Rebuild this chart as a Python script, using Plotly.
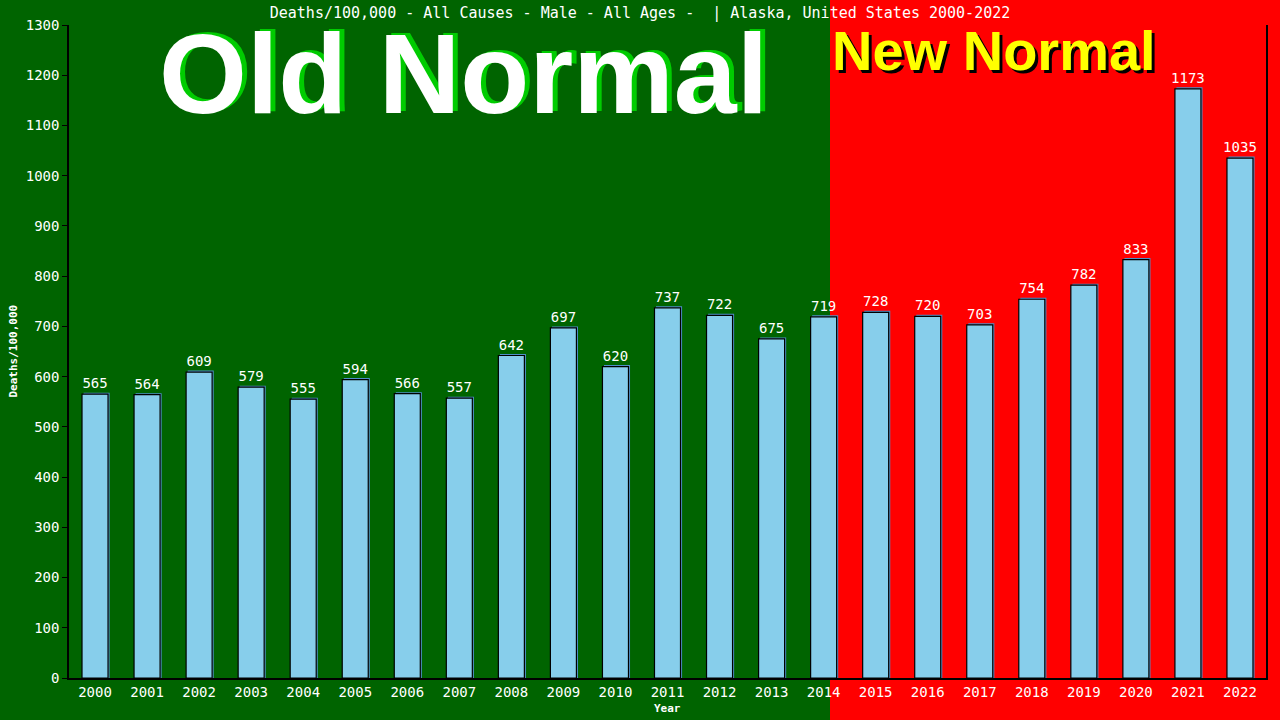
import plotly.graph_objects as go

years = [str(y) for y in range(2000, 2023)]
deaths = [565, 564, 609, 579, 555, 594, 566, 557, 642, 697, 620, 737, 722,
          675, 719, 728, 720, 703, 754, 782, 833, 1173, 1035]
y_ticks = list(range(0, 1301, 100))

title_text = "Deaths/100,000 - All Causes - Male - All Ages -  | Alaska, United States 2000-2022"

W, H = 1280, 720
L, R, T, B = 69, 14, 25, 42
PW, PH = W - L - R, H - T - B

def px_x(p):
    return (p - L) / PW

def px_y(p):
    return (H - B - p) / PH

mono = "DejaVu Sans Mono"
sans = "Liberation Sans"

fig = go.Figure()
# 3D shadow bar
fig.add_trace(go.Bar(
    x=years, y=[v + 3 for v in deaths], width=0.5, offset=-0.22,
    marker=dict(color="#4f8fc8", line=dict(width=0)),
    hoverinfo="skip", showlegend=False,
))
fig.add_trace(go.Bar(
    x=years, y=deaths, width=0.5, offset=-0.25,
    marker=dict(color="#87ceeb", line=dict(color="black", width=1.2)),
    text=[str(v) for v in deaths], textposition="outside", constraintext="none",
    textfont=dict(family=mono, size=14, color="white"),
    cliponaxis=False, showlegend=False,
))

fig.update_layout(
    width=W, height=H,
    margin=dict(l=L, r=R, t=T, b=B),
    paper_bgcolor="#006400",
    plot_bgcolor="rgba(0,0,0,0)",
    barmode="overlay",
    title=dict(text=title_text, x=0.5, xref="container", y=1 - 13 / H,
               yref="container", yanchor="middle", xanchor="center",
               font=dict(family=mono, size=15, color="white")),
    xaxis=dict(range=[-0.5, 22.5], showline=True, linecolor="black", linewidth=1.5,
               ticks="", showgrid=False,
               tickfont=dict(family=mono, size=14, color="white")),
    yaxis=dict(range=[0, 1300], tickvals=y_ticks, showline=True, linecolor="black",
               linewidth=1.5, mirror=True, ticks="outside", ticklen=5, tickcolor="black",
               showgrid=False, zeroline=False,
               tickfont=dict(family=mono, size=14, color="white")),
    shapes=[dict(type="rect", xref="paper", yref="paper",
                 x0=px_x(830), x1=1.2, y0=-0.3, y1=1.3,
                 fillcolor="#ff0000", line=dict(width=0), layer="below")],
)

annots = [
    dict(text="Old Normal", x=px_x(463), y=px_y(74), xshift=5, yshift=2,
         font=dict(family=sans, size=113, color="#00cc00", weight="bold")),
    dict(text="Old Normal", x=px_x(463), y=px_y(74),
         font=dict(family=sans, size=113, color="white", weight="bold")),
    dict(text="New Normal", x=px_x(994), y=px_y(51), xshift=3, yshift=-3,
         font=dict(family=sans, size=56, color="black", weight="bold")),
    dict(text="New Normal", x=px_x(994), y=px_y(51),
         font=dict(family=sans, size=56, color="#ffff00", weight="bold")),
    dict(text="Deaths/100,000", x=px_x(13), y=0.5, textangle=-90,
         font=dict(family=mono, size=11, color="white", weight="bold")),
    dict(text="Year", x=0.5, y=px_y(709),
         font=dict(family=mono, size=11, color="white", weight="bold")),
]
for a in annots:
    fig.add_annotation(xref="paper", yref="paper", showarrow=False,
                       xanchor="center", yanchor="middle", **a)

fig.write_html("out.html", config={"displayModeBar": False},
               post_script="document.body.style.margin='0';document.body.style.overflow='hidden';")
